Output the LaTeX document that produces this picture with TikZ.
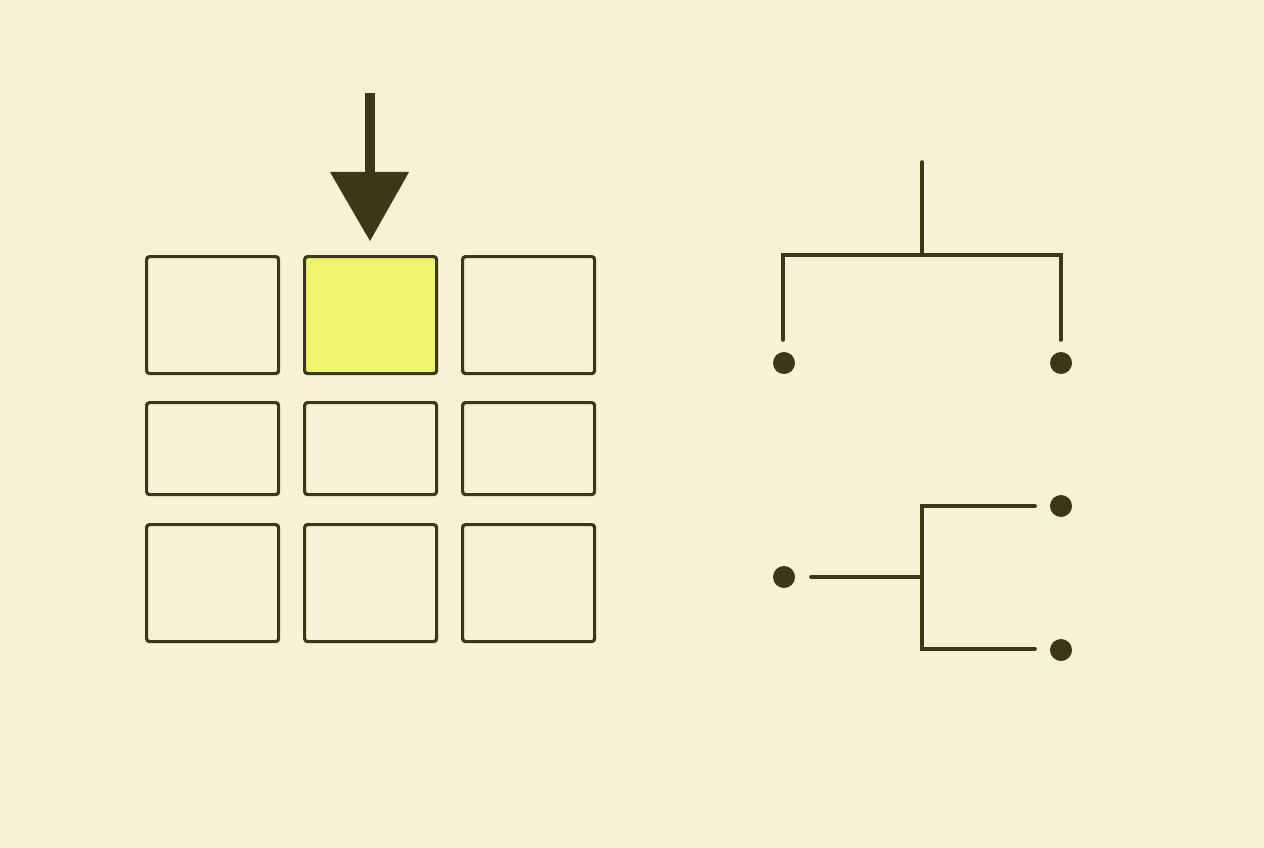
\documentclass[tikz,border=0pt]{standalone}
\begin{document}
\begin{tikzpicture}[x=1pt,y=-1pt,
  ink/.style={line width=3.6pt},
  cell/.style={draw=inkc,line width=3.2pt,rounded corners=3pt,inner sep=0pt,anchor=north west},
  dot/.style={circle,fill=inkc,inner sep=0pt,minimum size=22pt},
  wire/.style={draw=inkc,line width=3.6pt,line cap=round}]
\definecolor{bg}{HTML}{F5F2D8}
\definecolor{inkc}{HTML}{3A3816}
\definecolor{hl}{HTML}{EEF56A}
\fill[bg] (0,0) rectangle (1264,848);
\useasboundingbox (0,0) rectangle (1264,848);
% grid
\node[cell,minimum width=132pt,minimum height=117pt] (c11) at (145,255) {};
\node[cell,fill=hl,minimum width=132pt,minimum height=117pt] (c12) at (303,255) {};
\node[cell,minimum width=132pt,minimum height=117pt] (c13) at (461,255) {};
\node[cell,minimum width=132pt,minimum height=92pt] (c21) at (145,401) {};
\node[cell,minimum width=132pt,minimum height=92pt] (c22) at (303,401) {};
\node[cell,minimum width=132pt,minimum height=92pt] (c23) at (461,401) {};
\node[cell,minimum width=132pt,minimum height=117pt] (c31) at (145,523) {};
\node[cell,minimum width=132pt,minimum height=117pt] (c32) at (303,523) {};
\node[cell,minimum width=132pt,minimum height=117pt] (c33) at (461,523) {};
% arrow
\coordinate (atop) at (370,93);
\fill[inkc] (365,93) rectangle (375,174);
\fill[inkc] (330,172) -- (409,172) -- (370,241) -- cycle;
% top tree
\coordinate (troot) at (922,162);
\coordinate (tj) at (922,255);
\coordinate (tl) at (783,255);
\coordinate (tr) at (1061,255);
\coordinate (tle) at (783,340);
\coordinate (tre) at (1061,340);
\node[dot] (d1) at (784,363) {};
\node[dot] (d2) at (1061,363) {};
\draw[wire] (troot) -- (tj);
\draw[wire,line cap=round,line join=miter] (tle) -- (tl) -- (tr) -- (tre);
% bottom tree
\node[dot] (d3) at (784,577) {};
\node[dot] (d4) at (1061,506) {};
\node[dot] (d5) at (1061,650) {};
\coordinate (bs) at (811,577);
\coordinate (bj) at (922,577);
\coordinate (bt) at (922,506);
\coordinate (bb) at (922,649);
\coordinate (bte) at (1035,506);
\coordinate (bbe) at (1035,649);
\draw[wire] (bs) -- (bj);
\draw[wire,line join=miter] (bte) -- (bt) -- (bb) -- (bbe);
\end{tikzpicture}
\end{document}
